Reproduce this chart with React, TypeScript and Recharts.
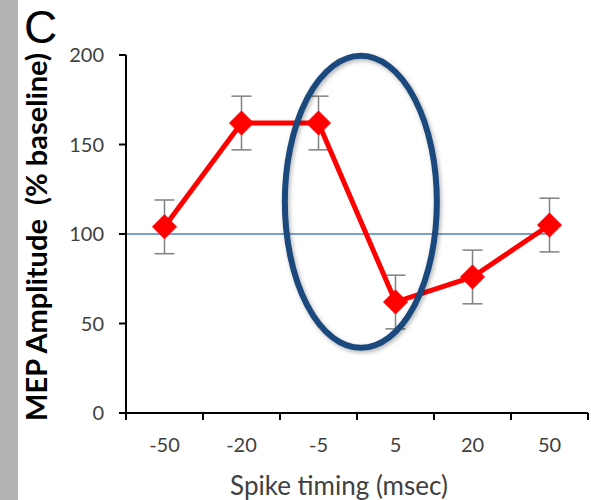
import React from "react";
import {
  ErrorBar,
  Line,
  LineChart,
  ReferenceDot,
  ReferenceLine,
  XAxis,
  YAxis,
} from "recharts";

// spike timing conditions (msec)
const timings = ["-50", "-20", "-5", "5", "20", "50"];
// MEP amplitude, % of baseline
const amplitude = [104, 162, 162, 62, 76, 105];
const sem = [15, 15, 15, 15, 15, 15];
const yTicks = [0, 50, 100, 150, 200];

const chartData = timings.map((t, i) => ({
  pos: i + 0.5,
  label: t,
  amp: amplitude[i],
  err: sem[i],
}));

const FONT = "Lato, 'Open Sans', sans-serif";
const TEXT = "#404040";
const BAND = 77; // width of one category on the x axis

function TimingTick(props: any) {
  const { x, y, payload } = props;
  const i = payload.value as number;
  return (
    <g>
      <line x1={x} y1={y} x2={x} y2={y + 7} stroke="#000" strokeWidth={2} />
      {i < timings.length && (
        <text x={x + BAND / 2} y={y + 39} textAnchor="middle" fill={TEXT} fontSize={20} fontFamily={FONT}>
          {timings[i]}
        </text>
      )}
    </g>
  );
}

function Diamond(props: any) {
  const { cx, cy } = props;
  if (cx == null || cy == null) return null;
  const r = 12;
  return (
    <polygon
      points={`${cx},${cy - r} ${cx + r},${cy} ${cx},${cy + r} ${cx - r},${cy}`}
      fill="#ff0000"
      stroke="#ff0000"
      strokeWidth={1}
    />
  );
}

function Highlight(props: any) {
  const { cx, cy } = props;
  return (
    <g>
      <defs>
        <filter id="ovalShadow" x="-20%" y="-20%" width="140%" height="140%">
          <feDropShadow dx="1.5" dy="2" stdDeviation="2" floodColor="#000" floodOpacity="0.3" />
        </filter>
      </defs>
      <ellipse
        cx={cx}
        cy={cy}
        rx={76}
        ry={146}
        fill="none"
        stroke="#1f497d"
        strokeWidth={6}
        filter="url(#ovalShadow)"
      />
    </g>
  );
}

const yLabel = () => (
  <text
    x={47}
    y={237}
    transform="rotate(-90, 47, 237)"
    textAnchor="middle"
    fill="#000"
    fontSize={29}
    fontWeight="bold"
    fontFamily={FONT}
    style={{ whiteSpace: "pre" }}
  >
    MEP Amplitude  (% baseline)
  </text>
);

const xLabel = () => (
  <text x={339} y={495} textAnchor="middle" fill={TEXT} fontSize={26} fontFamily={FONT}>
    Spike timing (msec)
  </text>
);

export default function App() {
  return (
    <div style={{ position: "absolute", left: 0, top: 0, width: 591, height: 500, background: "#fff" }}>
      <div style={{ position: "absolute", left: 0, top: 0, width: 18, height: 500, background: "#b3b3b3" }} />
      <div
        style={{
          position: "absolute",
          left: 24,
          top: 0,
          fontFamily: "'Liberation Sans', Arial, sans-serif",
          fontSize: 46,
          lineHeight: "54px",
          color: "#000",
        }}
      >
        C
      </div>
      <LineChart
        width={591}
        height={500}
        data={chartData}
        margin={{ top: 55, right: 3, bottom: 0, left: 0 }}
        style={{ position: "absolute", left: 0, top: 0, fontFamily: FONT }}
      >
        <XAxis
          dataKey="pos"
          type="number"
          domain={[0, 6]}
          ticks={[0, 1, 2, 3, 4, 5, 6]}
          interval={0}
          height={87}
          tickSize={0}
          tickMargin={0}
          tick={<TimingTick />}
          axisLine={{ stroke: "#000", strokeWidth: 2 }}
          label={{ content: xLabel }}
        />
        <YAxis
          domain={[0, 200]}
          ticks={yTicks}
          width={126}
          tickSize={7}
          tickMargin={15}
          tick={{ fill: TEXT, fontSize: 20, fontFamily: FONT }}
          tickLine={{ stroke: "#000", strokeWidth: 2 }}
          axisLine={{ stroke: "#000", strokeWidth: 2 }}
          label={{ content: yLabel }}
        />
        <ReferenceLine
          segment={[
            { x: 0, y: 100 },
            { x: 5.5, y: 100 },
          ]}
          stroke="#4f81bd"
          strokeWidth={1.5}
        />
        <Line
          dataKey="amp"
          stroke="#ff0000"
          strokeWidth={5}
          dot={<Diamond />}
          activeDot={false}
          isAnimationActive={false}
        >
          <ErrorBar dataKey="err" width={10} stroke="#808080" strokeWidth={1.5} />
        </Line>
        <ReferenceDot x={3.05} y={118} r={0} ifOverflow="visible" shape={<Highlight />} />
      </LineChart>
    </div>
  );
}
